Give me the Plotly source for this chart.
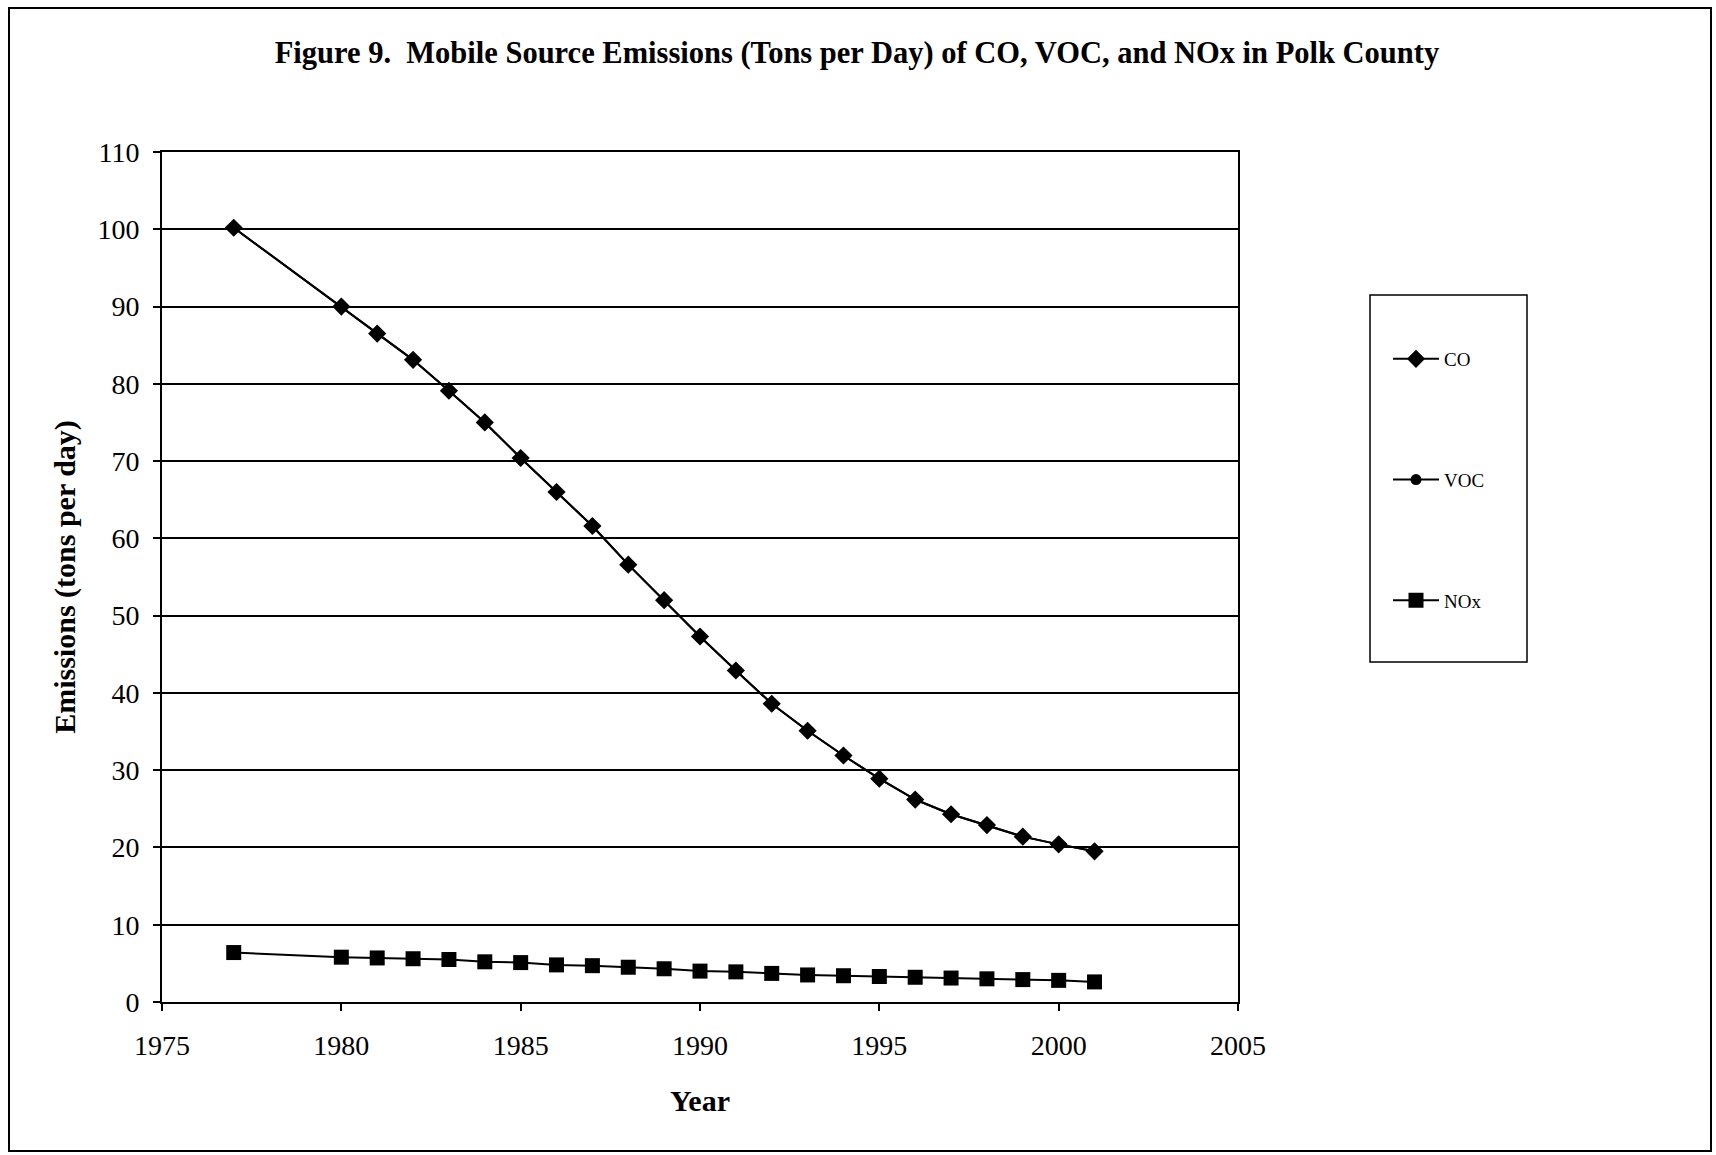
import plotly.graph_objects as go

years = [1977, 1980, 1981, 1982, 1983, 1984, 1985, 1986, 1987, 1988, 1989, 1990,
         1991, 1992, 1993, 1994, 1995, 1996, 1997, 1998, 1999, 2000, 2001]
co = [100.2, 90.0, 86.5, 83.1, 79.1, 75.0, 70.4, 66.0, 61.6, 56.6, 52.0, 47.3,
      42.9, 38.6, 35.1, 31.9, 28.9, 26.2, 24.3, 22.9, 21.4, 20.4, 19.5]
voc = [100.2, 90.0, 86.5, 83.1, 79.1, 75.0, 70.4, 66.0, 61.6, 56.6, 52.0, 47.3,
       42.9, 38.6, 35.1, 31.9, 28.9, 26.2, 24.3, 22.9, 21.4, 20.4, 19.5]
nox = [6.4, 5.8, 5.7, 5.6, 5.5, 5.2, 5.1, 4.8, 4.7, 4.5, 4.3, 4.0,
       3.9, 3.7, 3.5, 3.4, 3.3, 3.2, 3.1, 3.0, 2.9, 2.8, 2.6]

FONT = "Liberation Serif"

fig = go.Figure()
fig.add_trace(go.Scatter(x=years, y=voc, name="VOC", mode="lines+markers", legendgroup="b",
                         legendrank=2,
                         line=dict(color="black", width=2),
                         marker=dict(symbol="circle", size=11, color="black")))
fig.add_trace(go.Scatter(x=years, y=co, name="CO", mode="lines+markers", legendgroup="a",
                         legendrank=1,
                         line=dict(color="black", width=2),
                         marker=dict(symbol="diamond", size=14, color="black")))
fig.add_trace(go.Scatter(x=years, y=nox, name="NOx", mode="lines+markers", legendgroup="c",
                         legendrank=3,
                         line=dict(color="black", width=2),
                         marker=dict(symbol="square", size=15, color="black")))

L, R, T, B = 162, 1238, 152, 1002
W, H = 1716, 1155
pw, ph = R - L, B - T

def px(x):
    return (x - L) / pw

def py(y):
    return (B - y) / ph

fig.update_layout(
    width=W, height=H,
    margin=dict(l=L, r=W - R, t=T, b=H - B, autoexpand=False),
    paper_bgcolor="white", plot_bgcolor="white",
    font=dict(family=FONT, color="black", size=28),
    title=dict(text="<b>Figure 9.  Mobile Source Emissions (Tons per Day) of CO, VOC, and NOx in Polk County</b>",
               x=0.4994, xref="container", xanchor="center",
               y=1 - 52 / H, yref="container", yanchor="middle",
               font=dict(size=30.5, family=FONT)),
    xaxis=dict(range=[1975, 2005], tickvals=[1975, 1980, 1985, 1990, 1995, 2000, 2005],
               showgrid=False, zeroline=False, showline=True, linecolor="black", linewidth=2,
               mirror=True, ticks="outside", ticklen=7, tickcolor="black", tickwidth=1.5,
               tickfont=dict(size=28), ticklabelstandoff=10,
               title=dict(text="<b>Year</b>", font=dict(size=30), standoff=30)),
    yaxis=dict(range=[0, 110], tickvals=list(range(0, 111, 10)),
               showgrid=True, gridcolor="black", gridwidth=1.5, zeroline=False,
               showline=True, linecolor="black", linewidth=2, mirror=True,
               ticks="outside", ticklen=7, tickcolor="black", tickwidth=1.5,
               tickfont=dict(size=28), ticklabelstandoff=8,
               title=dict(text="<b>Emissions (tons per day)</b>", font=dict(size=30), standoff=13)),
    showlegend=True,
    legend=dict(x=px(1388), y=py(340), xanchor="left", yanchor="top",
                borderwidth=0, bgcolor="rgba(0,0,0,0)",
                font=dict(size=19, family=FONT), tracegroupgap=93,
                itemwidth=46, traceorder="grouped"),
    shapes=[
        dict(type="rect", xref="paper", yref="paper",
             x0=px(9), x1=px(1711), y0=py(1151), y1=py(8),
             line=dict(color="black", width=2), fillcolor="rgba(0,0,0,0)", layer="below"),
        dict(type="rect", xref="paper", yref="paper",
             x0=px(1370), x1=px(1527), y0=py(662), y1=py(295),
             line=dict(color="black", width=1.5), fillcolor="rgba(0,0,0,0)", layer="below"),
    ],
)

fig.write_html("out.html")
